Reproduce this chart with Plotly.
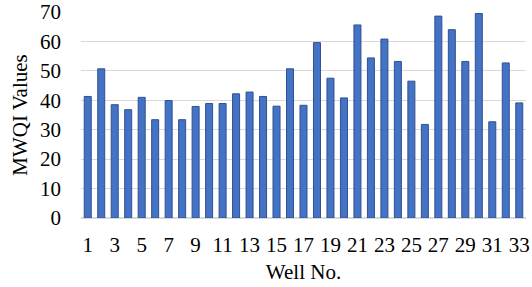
import plotly.graph_objects as go

wells = list(range(1, 34))
mwqi = [41.3, 50.7, 38.5, 36.8, 41.0, 33.4, 39.9, 33.4, 37.9, 38.9, 38.9, 42.2, 42.8,
        41.3, 38.0, 50.7, 38.3, 59.6, 47.5, 40.8, 65.6, 54.4, 60.8, 53.2, 46.5, 31.8,
        68.6, 64.0, 53.2, 69.5, 32.7, 52.7, 39.1]
x_ticks = list(range(1, 34, 2))
y_ticks = list(range(0, 80, 10))

fig = go.Figure()
fig.add_trace(go.Bar(
    x=wells, y=mwqi,
    marker=dict(color="#4472C4", line=dict(color="#2F528F", width=1)),
    width=0.52,
))

font = dict(family="Liberation Serif, Times New Roman, serif", size=21, color="#000000")
fig.update_layout(
    width=532, height=287,
    margin=dict(l=81, r=6, t=12, b=69),
    paper_bgcolor="white", plot_bgcolor="white",
    font=font,
    showlegend=False,
    xaxis=dict(
        range=[0.5, 33.5], tickmode="array", tickvals=x_ticks,
        ticktext=[str(v) for v in x_ticks],
        showgrid=False, zeroline=False, showline=False,
        ticks="", ticklabelstandoff=12, automargin=False,
        title=dict(text="Well No.", standoff=8, font=font),
    ),
    yaxis=dict(
        range=[0, 70], tickmode="array", tickvals=y_ticks,
        showgrid=True, gridcolor="#D9D9D9", gridwidth=1,
        zeroline=True, zerolinecolor="#D9D9D9", showline=False,
        ticks="", ticklabelstandoff=19, automargin=False,
        title=dict(text="MWQI Values", standoff=6, font=font),
    ),
)

fig.write_html(
    "out.html",
    config={"displayModeBar": False},
    post_script="document.body.style.margin='0';document.body.style.overflow='hidden';",
)
